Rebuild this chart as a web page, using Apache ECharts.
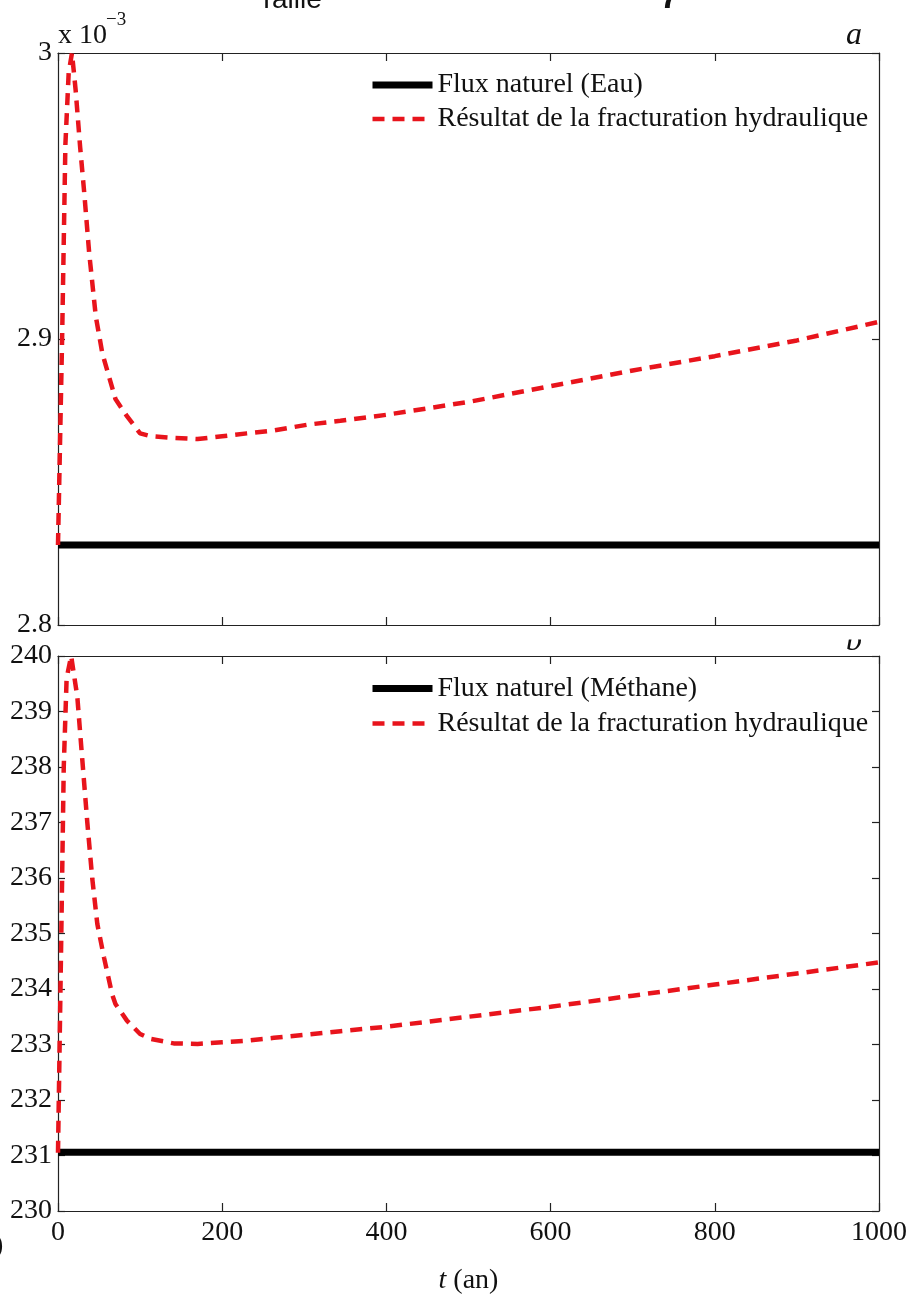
<!DOCTYPE html>
<html>
<head>
<meta charset="utf-8">
<script src="https://cdn.jsdelivr.net/npm/echarts@6/dist/echarts.min.js"></script>
<style>
html,body{margin:0;padding:0;background:#fff;}
#chart{width:912px;height:1296px;}
</style>
</head>
<body>
<div id="chart"></div>
<script>
// ---- data ----
const xTicks = [0, 200, 400, 600, 800, 1000];
const natNameEau = 'Flux naturel (Eau)';
const natNameMeth = 'Flux naturel (Méthane)';
const fracName = 'Résultat de la fracturation hydraulique';

const tNat = [0, 1000];
const natEau = [2.828, 2.828];          // x 10^-3
const natMeth = [231.06, 231.06];

const tEau = [0, 5, 9, 13, 17, 21.5, 27, 32, 38, 46, 54, 66, 70, 84, 100, 113, 141, 170, 200, 230, 263, 303, 344, 400, 500, 600, 700, 800, 900, 1000];
const eauFrac = [2.828, 2.9, 2.968, 2.993, 3.0, 2.987, 2.967, 2.951, 2.93, 2.908, 2.895, 2.883, 2.879, 2.873, 2.867, 2.866, 2.8654, 2.865, 2.866, 2.867, 2.868, 2.870, 2.8714, 2.8735, 2.878, 2.8835, 2.889, 2.894, 2.8995, 2.906];

const tMeth = [0, 4, 7, 10.5, 16, 23.5, 29.6, 35.7, 41.8, 47.9, 56, 66, 70, 84, 100, 113, 141, 170, 200, 230, 263, 303, 344, 400, 500, 600, 700, 800, 900, 1000];
const methFrac = [231.05, 234.97, 238.0, 239.6, 240.0, 239.27, 238.13, 237.0, 235.98, 235.17, 234.57, 233.9, 233.73, 233.43, 233.19, 233.1, 233.02, 233.01, 233.04, 233.07, 233.12, 233.18, 233.24, 233.32, 233.5, 233.68, 233.88, 234.08, 234.28, 234.48];

const yTicksEau = [2.8, 2.9, 3.0];
const yTicksMeth = [230, 231, 232, 233, 234, 235, 236, 237, 238, 239, 240];

// ---- chart ----
const FONT = '"Liberation Serif", "Times New Roman", serif';
const axisColor = '#222';
const RED = '#e8141c';
const pair = (xs, ys) => xs.map((x, i) => [x, ys[i]]);

function xAxis(grid, pos, labels) {
  return {
    gridIndex: grid, type: 'value', position: pos,
    min: xTicks[0], max: xTicks[xTicks.length - 1], interval: xTicks[1] - xTicks[0],
    axisLine: { show: true, onZero: false, lineStyle: { color: axisColor, width: 1.2 } },
    axisTick: { show: true, inside: true, length: 8, lineStyle: { color: axisColor, width: 1.2 } },
    axisLabel: { show: labels, fontFamily: FONT, fontSize: 28, color: '#111', margin: 8,
      formatter: v => String(v) },
    splitLine: { show: false }
  };
}
function yAxis(grid, pos, ticks, labels) {
  return {
    gridIndex: grid, type: 'value', position: pos,
    min: ticks[0], max: ticks[ticks.length - 1],
    interval: Math.round((ticks[1] - ticks[0]) * 1000) / 1000,
    axisLine: { show: true, onZero: false, lineStyle: { color: axisColor, width: 1.2 } },
    axisTick: { show: true, inside: true, length: 7, lineStyle: { color: axisColor, width: 1.2 } },
    axisLabel: {
      show: labels, fontFamily: FONT, fontSize: 28, color: '#111', margin: 6,
      formatter: v => String(Number(v.toFixed(1)))
    },
    splitLine: { show: false }
  };
}

const blackStyle = { color: '#000', width: 7, type: 'solid' };
const redStyle = { color: RED, width: 4.5, type: [12, 8] };

const xB = xAxis(1, 'bottom', true);
xB.name = '{i|t} (an)';
xB.nameLocation = 'middle';
xB.nameGap = 56;
xB.nameTextStyle = {
  fontFamily: FONT, fontSize: 28, color: '#111',
  rich: { i: { fontFamily: FONT, fontSize: 28, fontStyle: 'italic', color: '#111' } }
};

function legendItems(natName) {
  return [
    { name: natName, itemStyle: { opacity: 0 }, lineStyle: { width: 7, type: 'solid', color: '#000', opacity: 1 } },
    { name: fracName, itemStyle: { opacity: 0 }, lineStyle: { width: 4.5, type: [12, 8], color: RED, opacity: 1 } }
  ];
}

const option = {
  backgroundColor: '#fff',
  animation: false,
  grid: [
    { left: 58, top: 53, width: 821, height: 572, containLabel: false },
    { left: 58, top: 656, width: 821, height: 572, containLabel: false }
  ],
  xAxis: [xAxis(0, 'bottom', false), xAxis(0, 'top', false), xB, xAxis(1, 'top', false)],
  yAxis: [yAxis(0, 'left', yTicksEau, true), yAxis(0, 'right', yTicksEau, false),
          yAxis(1, 'left', yTicksMeth, true), yAxis(1, 'right', yTicksMeth, false)],
  legend: [
    {
      data: legendItems(natNameEau), orient: 'vertical', left: 369, top: 68,
      itemWidth: 60, itemHeight: 20, itemGap: 0, padding: 0,
      textStyle: { fontFamily: FONT, fontSize: 28, color: '#111', lineHeight: 34 }
    },
    {
      data: legendItems(natNameMeth), orient: 'vertical', left: 369, top: 671,
      itemWidth: 60, itemHeight: 20, itemGap: 0, padding: 0,
      textStyle: { fontFamily: FONT, fontSize: 28, color: '#111', lineHeight: 35 }
    }
  ],
  series: [
    { name: natNameEau, type: 'line', xAxisIndex: 0, yAxisIndex: 0, data: pair(tNat, natEau),
      symbol: 'none', lineStyle: blackStyle, itemStyle: { color: '#000' } },
    { name: fracName, type: 'line', xAxisIndex: 0, yAxisIndex: 0, data: pair(tEau, eauFrac),
      symbol: 'none', lineStyle: redStyle, itemStyle: { color: RED } },
    { name: natNameMeth, type: 'line', xAxisIndex: 2, yAxisIndex: 2, data: pair(tNat, natMeth),
      symbol: 'none', lineStyle: blackStyle, itemStyle: { color: '#000' } },
    { name: fracName, type: 'line', xAxisIndex: 2, yAxisIndex: 2, data: pair(tMeth, methFrac),
      symbol: 'none', lineStyle: redStyle, itemStyle: { color: RED } }
  ],
  graphic: [
    { type: 'text', left: 58, top: 22, z: 10,
      style: { text: 'x 10', font: '28px ' + FONT, fill: '#111' } },
    { type: 'text', left: 106, top: 11, z: 10,
      style: { text: '\u22123', font: '19px ' + FONT, fill: '#111' } },
    { type: 'text', left: 846, top: 20, z: 10,
      style: { text: 'a', font: 'italic 32px ' + FONT, fill: '#111' } },
    { type: 'text', left: 846, top: 626, z: 10,
      style: { text: 'b', font: 'italic 32px ' + FONT, fill: '#111' } },
    { type: 'rect', shape: { x: 835, y: 626.5, width: 43, height: 13 }, z: 20,
      style: { fill: '#fff' } },
    { type: 'text', left: 258, top: -14, z: 10,
      style: { text: 'Taille', font: '28px "Liberation Sans", Arial, sans-serif', fill: '#111' } },
    { type: 'text', left: 660, top: -18, z: 10,
      style: { text: '7', font: 'bold 34px "Liberation Sans", Arial, sans-serif', fill: '#111' } },
    { type: 'text', left: -6, top: 1232, z: 10,
      style: { text: ')', font: '28px ' + FONT, fill: '#111' } }
  ]
};

const chart = echarts.init(document.getElementById('chart'), null, { renderer: 'canvas' });
chart.setOption(option);
</script>
</body>
</html>
